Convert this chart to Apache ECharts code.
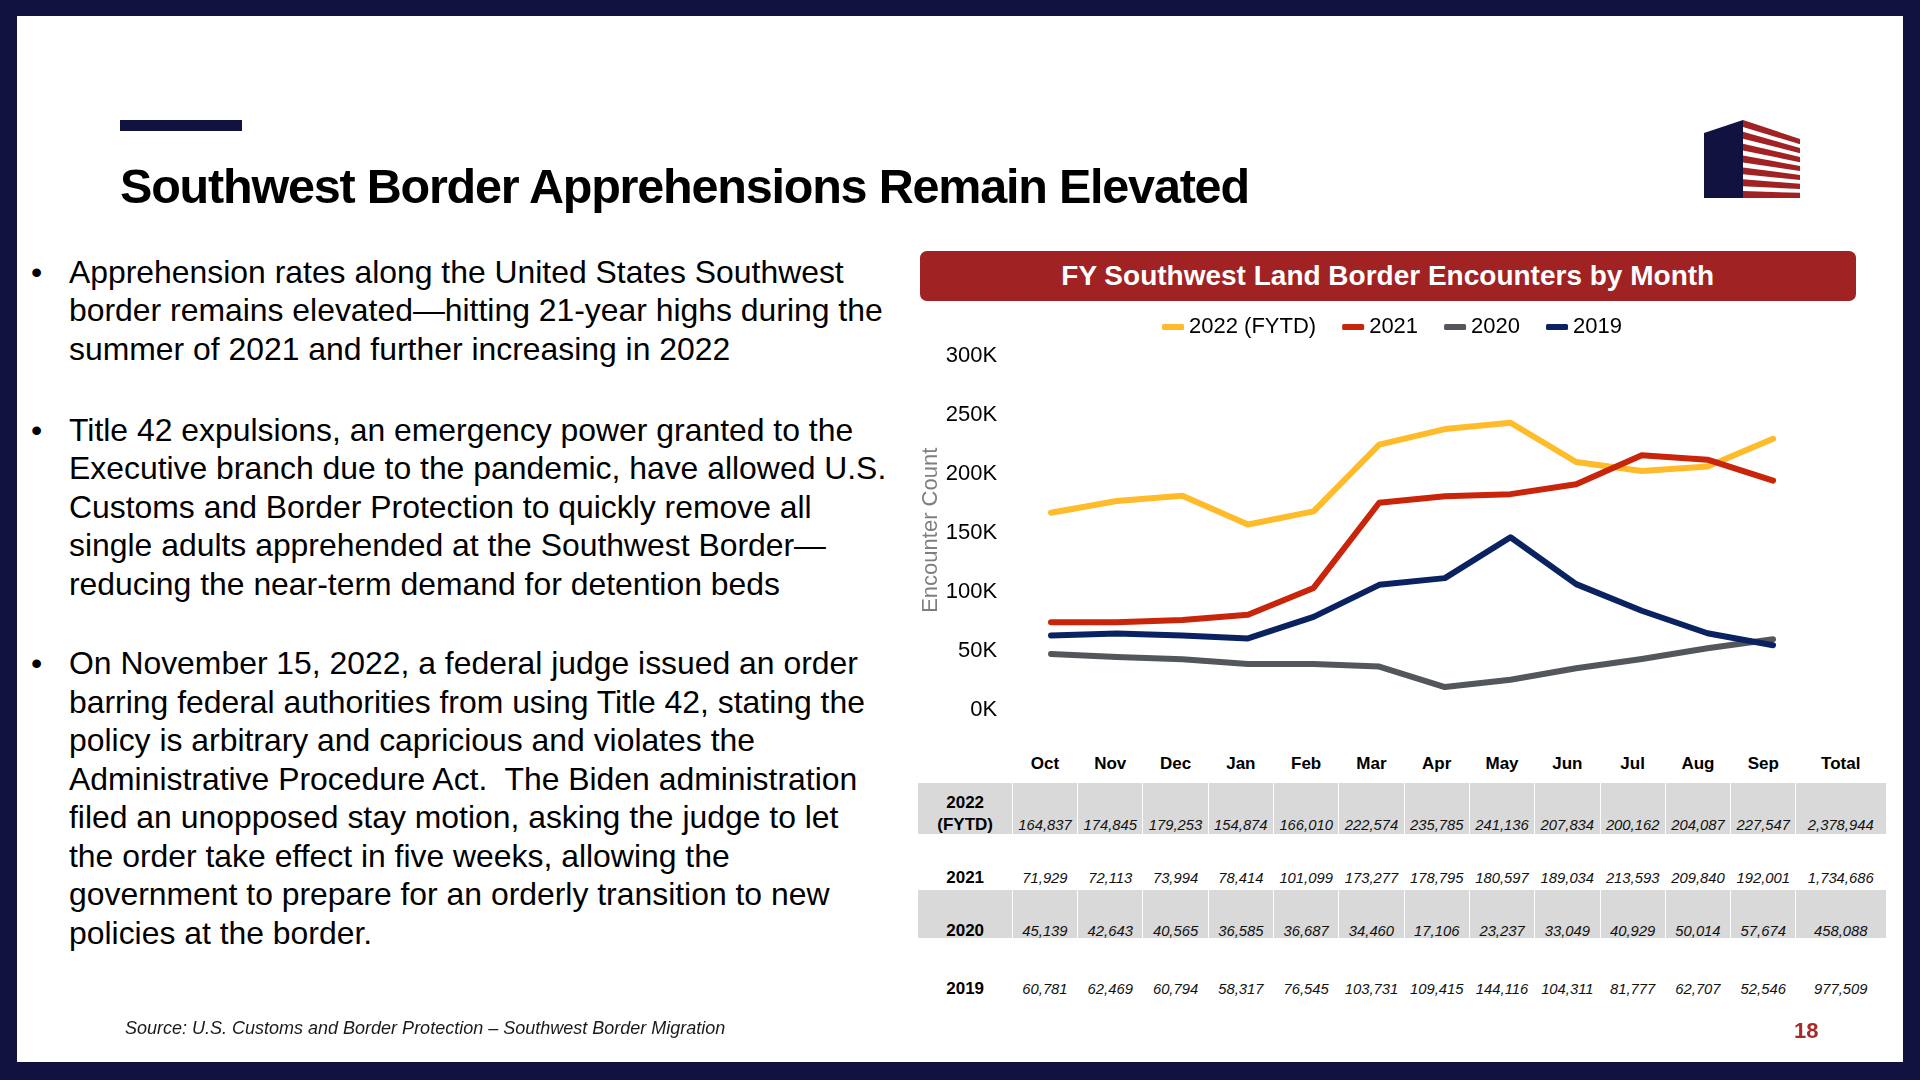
<!DOCTYPE html>
<html>
<head>
<meta charset="utf-8">
<script src="https://cdn.jsdelivr.net/npm/echarts@6/dist/echarts.min.js"></script>
<style>
  html, body { margin:0; padding:0; }
  body { width:1920px; height:1080px; background:#11123F; position:relative; overflow:hidden;
         font-family:"Liberation Sans", Arial, Helvetica, sans-serif; color:#000; }
  #panel { position:absolute; left:17px; top:16px; width:1886px; height:1046px; background:#fff; }
  .abs { position:absolute; white-space:pre; }
  #accent { position:absolute; left:120px; top:120px; width:122px; height:11px; background:#11123F; }
  #title { left:120px; top:162px; font-size:48.5px; line-height:48px; font-weight:bold; letter-spacing:-1.2px; color:#000; }
  .bl { position:absolute; left:69px; font-size:31.9px; line-height:38.5px; color:#000; white-space:pre; }
  .bullet { position:absolute; left:31px; font-size:32px; line-height:38.5px; }
  #hdr { position:absolute; left:919.5px; top:250.7px; width:936.5px; height:50.3px; background:#A12222;
         border-radius:7px; color:#fff; font-weight:bold; font-size:28px; line-height:50.3px; text-align:center; }
  #chart { position:absolute; left:0; top:0; width:1920px; height:1080px; }
  .cell { position:absolute; text-align:center; white-space:nowrap; }
  .band { position:absolute; background:#D9D9D9; }
  .sep { position:absolute; width:1px; background:#fff; }
  #source { left:125px; top:1018px; font-size:18px; line-height:21px; font-style:italic; color:#1a1a1a; }
  #page { left:1794px; top:1018px; font-size:22px; line-height:25px; font-weight:bold; color:#A52A2A; }
</style>
</head>
<body>
<div id="panel"></div>
<div id="accent"></div>
<div id="title" class="abs">Southwest Border Apprehensions Remain Elevated</div>
<svg id="logo" style="position:absolute;left:0;top:0" width="1920" height="260"></svg>
<div id="bullets"></div>
<div id="hdr">FY Southwest Land Border Encounters by Month</div>
<div id="table"></div>
<div id="chart"></div>
<div id="source" class="abs">Source: U.S. Customs and Border Protection – Southwest Border Migration</div>
<div id="page" class="abs">18</div>
<script>
// ---------------- DATA ----------------
const months = ['Oct','Nov','Dec','Jan','Feb','Mar','Apr','May','Jun','Jul','Aug','Sep'];
const seriesNames = ['2022 (FYTD)','2021','2020','2019'];
const v2022 = [164837,174845,179253,154874,166010,222574,235785,241136,207834,200162,204087,227547];
const v2021 = [71929,72113,73994,78414,101099,173277,178795,180597,189034,213593,209840,192001];
const v2020 = [45139,42643,40565,36585,36687,34460,17106,23237,33049,40929,50014,57674];
const v2019 = [60781,62469,60794,58317,76545,103731,109415,144116,104311,81777,62707,52546];
const totals = [2378944,1734686,458088,977509];
const rowLabels = [['2022','(FYTD)'],['2021'],['2020'],['2019']];
const totalHeader = 'Total';
const yTicks = [0,50000,100000,150000,200000,250000,300000];

const bulletTexts = [
  ['Apprehension rates along the United States Southwest',
   'border remains elevated—hitting 21-year highs during the',
   'summer of 2021 and further increasing in 2022'],
  ['Title 42 expulsions, an emergency power granted to the',
   'Executive branch due to the pandemic, have allowed U.S.',
   'Customs and Border Protection to quickly remove all',
   'single adults apprehended at the Southwest Border—',
   'reducing the near-term demand for detention beds'],
  ['On November 15, 2022, a federal judge issued an order',
   'barring federal authorities from using Title 42, stating the',
   'policy is arbitrary and capricious and violates the',
   'Administrative Procedure Act.  The Biden administration',
   'filed an unopposed stay motion, asking the judge to let',
   'the order take effect in five weeks, allowing the',
   'government to prepare for an orderly transition to new',
   'policies at the border.']
];

// ---------------- LAYOUT / STYLE ----------------
const FONT = '"Liberation Sans", Arial, Helvetica, sans-serif';
const colors = ['#FFBB29','#C8250B','#53575C','#0A2262'];

// bullets
(function(){
  const host = document.getElementById('bullets');
  const tops = [252.5, 410.5, 644.4];
  bulletTexts.forEach((lines, i) => {
    const b = document.createElement('div');
    b.className = 'bullet'; b.style.top = tops[i] + 'px'; b.textContent = '•';
    host.appendChild(b);
    lines.forEach((ln, j) => {
      const d = document.createElement('div');
      d.className = 'bl'; d.style.top = (tops[i] + j * 38.5) + 'px'; d.textContent = ln;
      host.appendChild(d);
    });
  });
})();

// logo
(function(){
  const svg = document.getElementById('logo');
  const ns = 'http://www.w3.org/2000/svg';
  const p = document.createElementNS(ns, 'polygon');
  p.setAttribute('points', '1704,133 1743,120 1743,198 1704,198');
  p.setAttribute('fill', '#11123F');
  svg.appendChild(p);
  const pL = 11.85, hL = 6.9, pR = 8.97, hR = 5.2;
  for (let i = 0; i < 7; i++) {
    const tl = 120 + i * pL, tr = 139 + i * pR;
    const q = document.createElementNS(ns, 'polygon');
    q.setAttribute('points', `1743,${tl} 1800,${tr} 1800,${tr + hR} 1743,${tl + hL}`);
    q.setAttribute('fill', '#A12222');
    svg.appendChild(q);
  }
})();

// table
(function(){
  const host = document.getElementById('table');
  const labelLeft = 918, labelW = 94.3, colW = 65.3, totalW = 89.7;
  const rowsGeom = [
    {top:783.3, bottom:834, cy:824.5, shade:true},
    {top:834, bottom:890, cy:877.5, shade:false},
    {top:890, bottom:938.3, cy:930.7, shade:true},
    {top:938.3, bottom:997, cy:989, shade:false}
  ];
  const headerCy = 764.2;
  const colLeft = k => labelLeft + labelW + k * colW;
  const totalLeft = colLeft(months.length);
  function txt(left, width, cy, s, style) {
    const d = document.createElement('div');
    d.className = 'cell';
    d.style.left = left + 'px'; d.style.width = width + 'px';
    d.style.top = (cy - 10) + 'px'; d.style.height = '20px'; d.style.lineHeight = '20px';
    Object.assign(d.style, style);
    d.textContent = s;
    host.appendChild(d);
  }
  const hdrStyle = {fontWeight:'bold', fontSize:'17px'};
  const numStyle = {fontStyle:'italic', fontSize:'14.8px', color:'#111'};
  months.forEach((m, k) => txt(colLeft(k), colW, headerCy, m, hdrStyle));
  txt(totalLeft, totalW, headerCy, totalHeader, hdrStyle);
  const data = [v2022, v2021, v2020, v2019];
  rowsGeom.forEach((g, r) => {
    if (g.shade) {
      const b = document.createElement('div');
      b.className = 'band';
      b.style.left = labelLeft + 'px'; b.style.top = g.top + 'px';
      b.style.width = (totalLeft + totalW - labelLeft) + 'px'; b.style.height = (g.bottom - g.top) + 'px';
      host.appendChild(b);
      for (let k = 0; k <= months.length; k++) {
        const s = document.createElement('div');
        s.className = 'sep';
        s.style.left = (colLeft(k) - 0.5) + 'px'; s.style.top = g.top + 'px'; s.style.height = (g.bottom - g.top) + 'px';
        host.appendChild(s);
      }
    }
    const lbl = rowLabels[r];
    lbl.forEach((t, j) => txt(labelLeft, labelW, g.cy - (lbl.length - 1 - j) * 21.7, t, hdrStyle));
    data[r].forEach((v, k) => txt(colLeft(k), colW, g.cy, v.toLocaleString('en-US'), numStyle));
    txt(totalLeft, totalW, g.cy, totals[r].toLocaleString('en-US'), numStyle);
  });
})();

// chart
const chart = echarts.init(document.getElementById('chart'), null, {renderer:'canvas'});
const seriesData = [v2022, v2021, v2020, v2019];
chart.setOption({
  animation: false,
  backgroundColor: 'transparent',
  textStyle: {fontFamily: FONT},
  legend: {
    data: seriesNames,
    left: 1157, top: 311,
    icon: 'roundRect', itemWidth: 22, itemHeight: 6, itemGap: 26,
    textStyle: {fontSize: 22, color: '#000', fontFamily: FONT}
  },
  grid: {left: 1018.2, top: 353.3, width: 787.7, height: 353.9, containLabel: false},
  xAxis: {
    type: 'category', data: months, boundaryGap: true,
    axisLine: {show: false}, axisTick: {show: false}, axisLabel: {show: false}, splitLine: {show: false}
  },
  yAxis: {
    type: 'value', min: yTicks[0], max: yTicks[yTicks.length - 1], interval: yTicks[1] - yTicks[0],
    axisLine: {show: false}, axisTick: {show: false}, splitLine: {show: false},
    axisLabel: {formatter: v => '{a|' + (v / 1000) + 'K}', margin: 21,
                rich: {a: {fontSize: 22, color: '#000', fontFamily: FONT, padding: [5, 0, 0, 0]}}},
    name: 'Encounter Count', nameLocation: 'middle', nameGap: 68.5,
    nameTextStyle: {fontSize: 22, color: '#7F7F7F', fontFamily: FONT}
  },
  series: seriesNames.map((n, i) => ({
    name: n, type: 'line', data: seriesData[i], symbol: 'none', smooth: false,
    color: colors[i],
    lineStyle: {width: 6, color: colors[i], cap: 'round', join: 'round'}
  }))
});
</script>
</body>
</html>
